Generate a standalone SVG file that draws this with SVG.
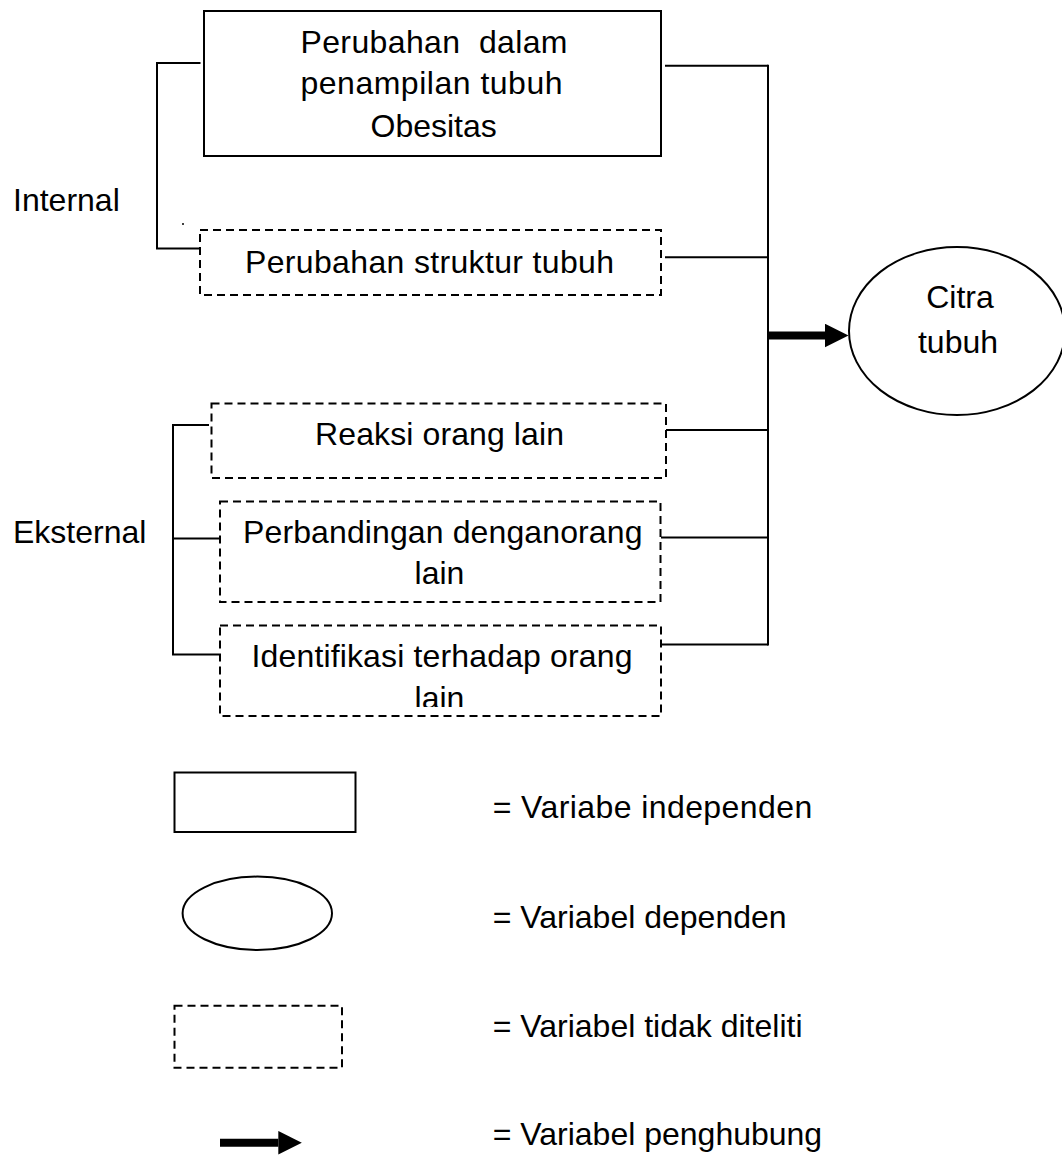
<svg xmlns="http://www.w3.org/2000/svg" width="1062" height="1155" viewBox="0 0 1062 1155">
<style>
  .box{fill:#fff;stroke:#000;stroke-width:2}
  .dash{fill:#fff;stroke:#000;stroke-width:2;stroke-dasharray:8 5}
  .ln{fill:none;stroke:#000;stroke-width:2}
  .arr{fill:none;stroke:#000;stroke-width:8;marker-end:url(#head)}
  text{font-family:"Liberation Sans",Arial,sans-serif;font-size:32px;fill:#000}
  .c{text-anchor:middle}
</style>
<defs>
  <marker id="head" markerUnits="userSpaceOnUse" markerWidth="24" markerHeight="24" refX="0" refY="11.75" orient="auto">
    <path d="M0,0 L23.5,11.75 L0,23.5 Z" fill="#000"/>
  </marker>
  <clipPath id="clipIdent"><rect x="220" y="620" width="442" height="87"/></clipPath>
</defs>
<rect width="1062" height="1155" fill="#fff"/>

<g id="connectors">
  <polyline class="ln" points="200.5,63 157,63 157,248.5 200,248.5"/>
  <polyline class="ln" points="209,425 173,425 173,654.5 219,654.5"/>
  <line class="ln" x1="173" y1="538.5" x2="219.5" y2="538.5"/>
  <line class="ln" x1="665" y1="65.7" x2="768" y2="65.7"/>
  <line class="ln" x1="665" y1="257.3" x2="768" y2="257.3"/>
  <line class="ln" x1="666" y1="430" x2="768" y2="430"/>
  <line class="ln" x1="661" y1="537.5" x2="768" y2="537.5"/>
  <line class="ln" x1="662" y1="644.5" x2="768" y2="644.5"/>
  <line class="ln" x1="768" y1="64.7" x2="768" y2="645.5"/>
  <line class="arr" x1="767" y1="335.5" x2="825" y2="335.5"/>
</g>

<g id="label-internal"><text x="13" y="211">Internal</text></g>
<g id="label-eksternal"><text x="13" y="543.3">Eksternal</text></g>
<circle cx="183" cy="224" r="1" fill="#000"/>

<g id="node-perubahan-penampilan">
  <rect class="box" x="204" y="11" width="457" height="145"/>
  <text x="300.5" y="52.7" textLength="267" lengthAdjust="spacing" xml:space="preserve">Perubahan  dalam</text>
  <text x="300.5" y="94.3" textLength="262" lengthAdjust="spacing">penampilan tubuh</text>
  <text x="370.5" y="136.7">Obesitas</text>
</g>

<g id="node-perubahan-struktur">
  <rect class="dash" x="200" y="230" width="461" height="65"/>
  <text x="245" y="273.3" textLength="369" lengthAdjust="spacing">Perubahan struktur tubuh</text>
</g>

<g id="node-reaksi">
  <rect class="dash" x="211.5" y="403.5" width="454.5" height="74.5"/>
  <text x="315" y="445" textLength="249" lengthAdjust="spacing">Reaksi orang lain</text>
</g>

<g id="node-perbandingan">
  <rect class="dash" x="220" y="501.5" width="440.5" height="100.5"/>
  <text x="243" y="543.3" textLength="399.5" lengthAdjust="spacing">Perbandingan denganorang</text>
  <text class="c" x="439.5" y="584.3">lain</text>
</g>

<g id="node-identifikasi">
  <rect class="dash" x="220" y="625.5" width="441" height="90.5"/>
  <text x="251.5" y="666.7" textLength="381" lengthAdjust="spacing">Identifikasi terhadap orang</text>
  <text class="c" x="439.5" y="709" clip-path="url(#clipIdent)">lain</text>
</g>

<g id="node-citra">
  <ellipse cx="957" cy="331" rx="108" ry="84" fill="#fff" stroke="#000" stroke-width="2"/>
  <text class="c" x="960" y="308.3">Citra</text>
  <text class="c" x="958" y="352.7">tubuh</text>
</g>

<g id="legend">
  <rect class="box" x="174.5" y="772.5" width="181" height="59.5"/>
  <ellipse cx="257.3" cy="913.3" rx="74.7" ry="36.7" fill="#fff" stroke="#000" stroke-width="2"/>
  <rect class="dash" x="174.5" y="1005.7" width="167.5" height="62"/>
  <line class="arr" x1="220" y1="1142.7" x2="278.3" y2="1142.7"/>
  <text x="492.7" y="818.3" textLength="319.5" lengthAdjust="spacing">= Variabe independen</text>
  <text x="492.7" y="928">= Variabel dependen</text>
  <text x="492.7" y="1037">= Variabel tidak diteliti</text>
  <text x="492.7" y="1145">= Variabel penghubung</text>
</g>
</svg>
